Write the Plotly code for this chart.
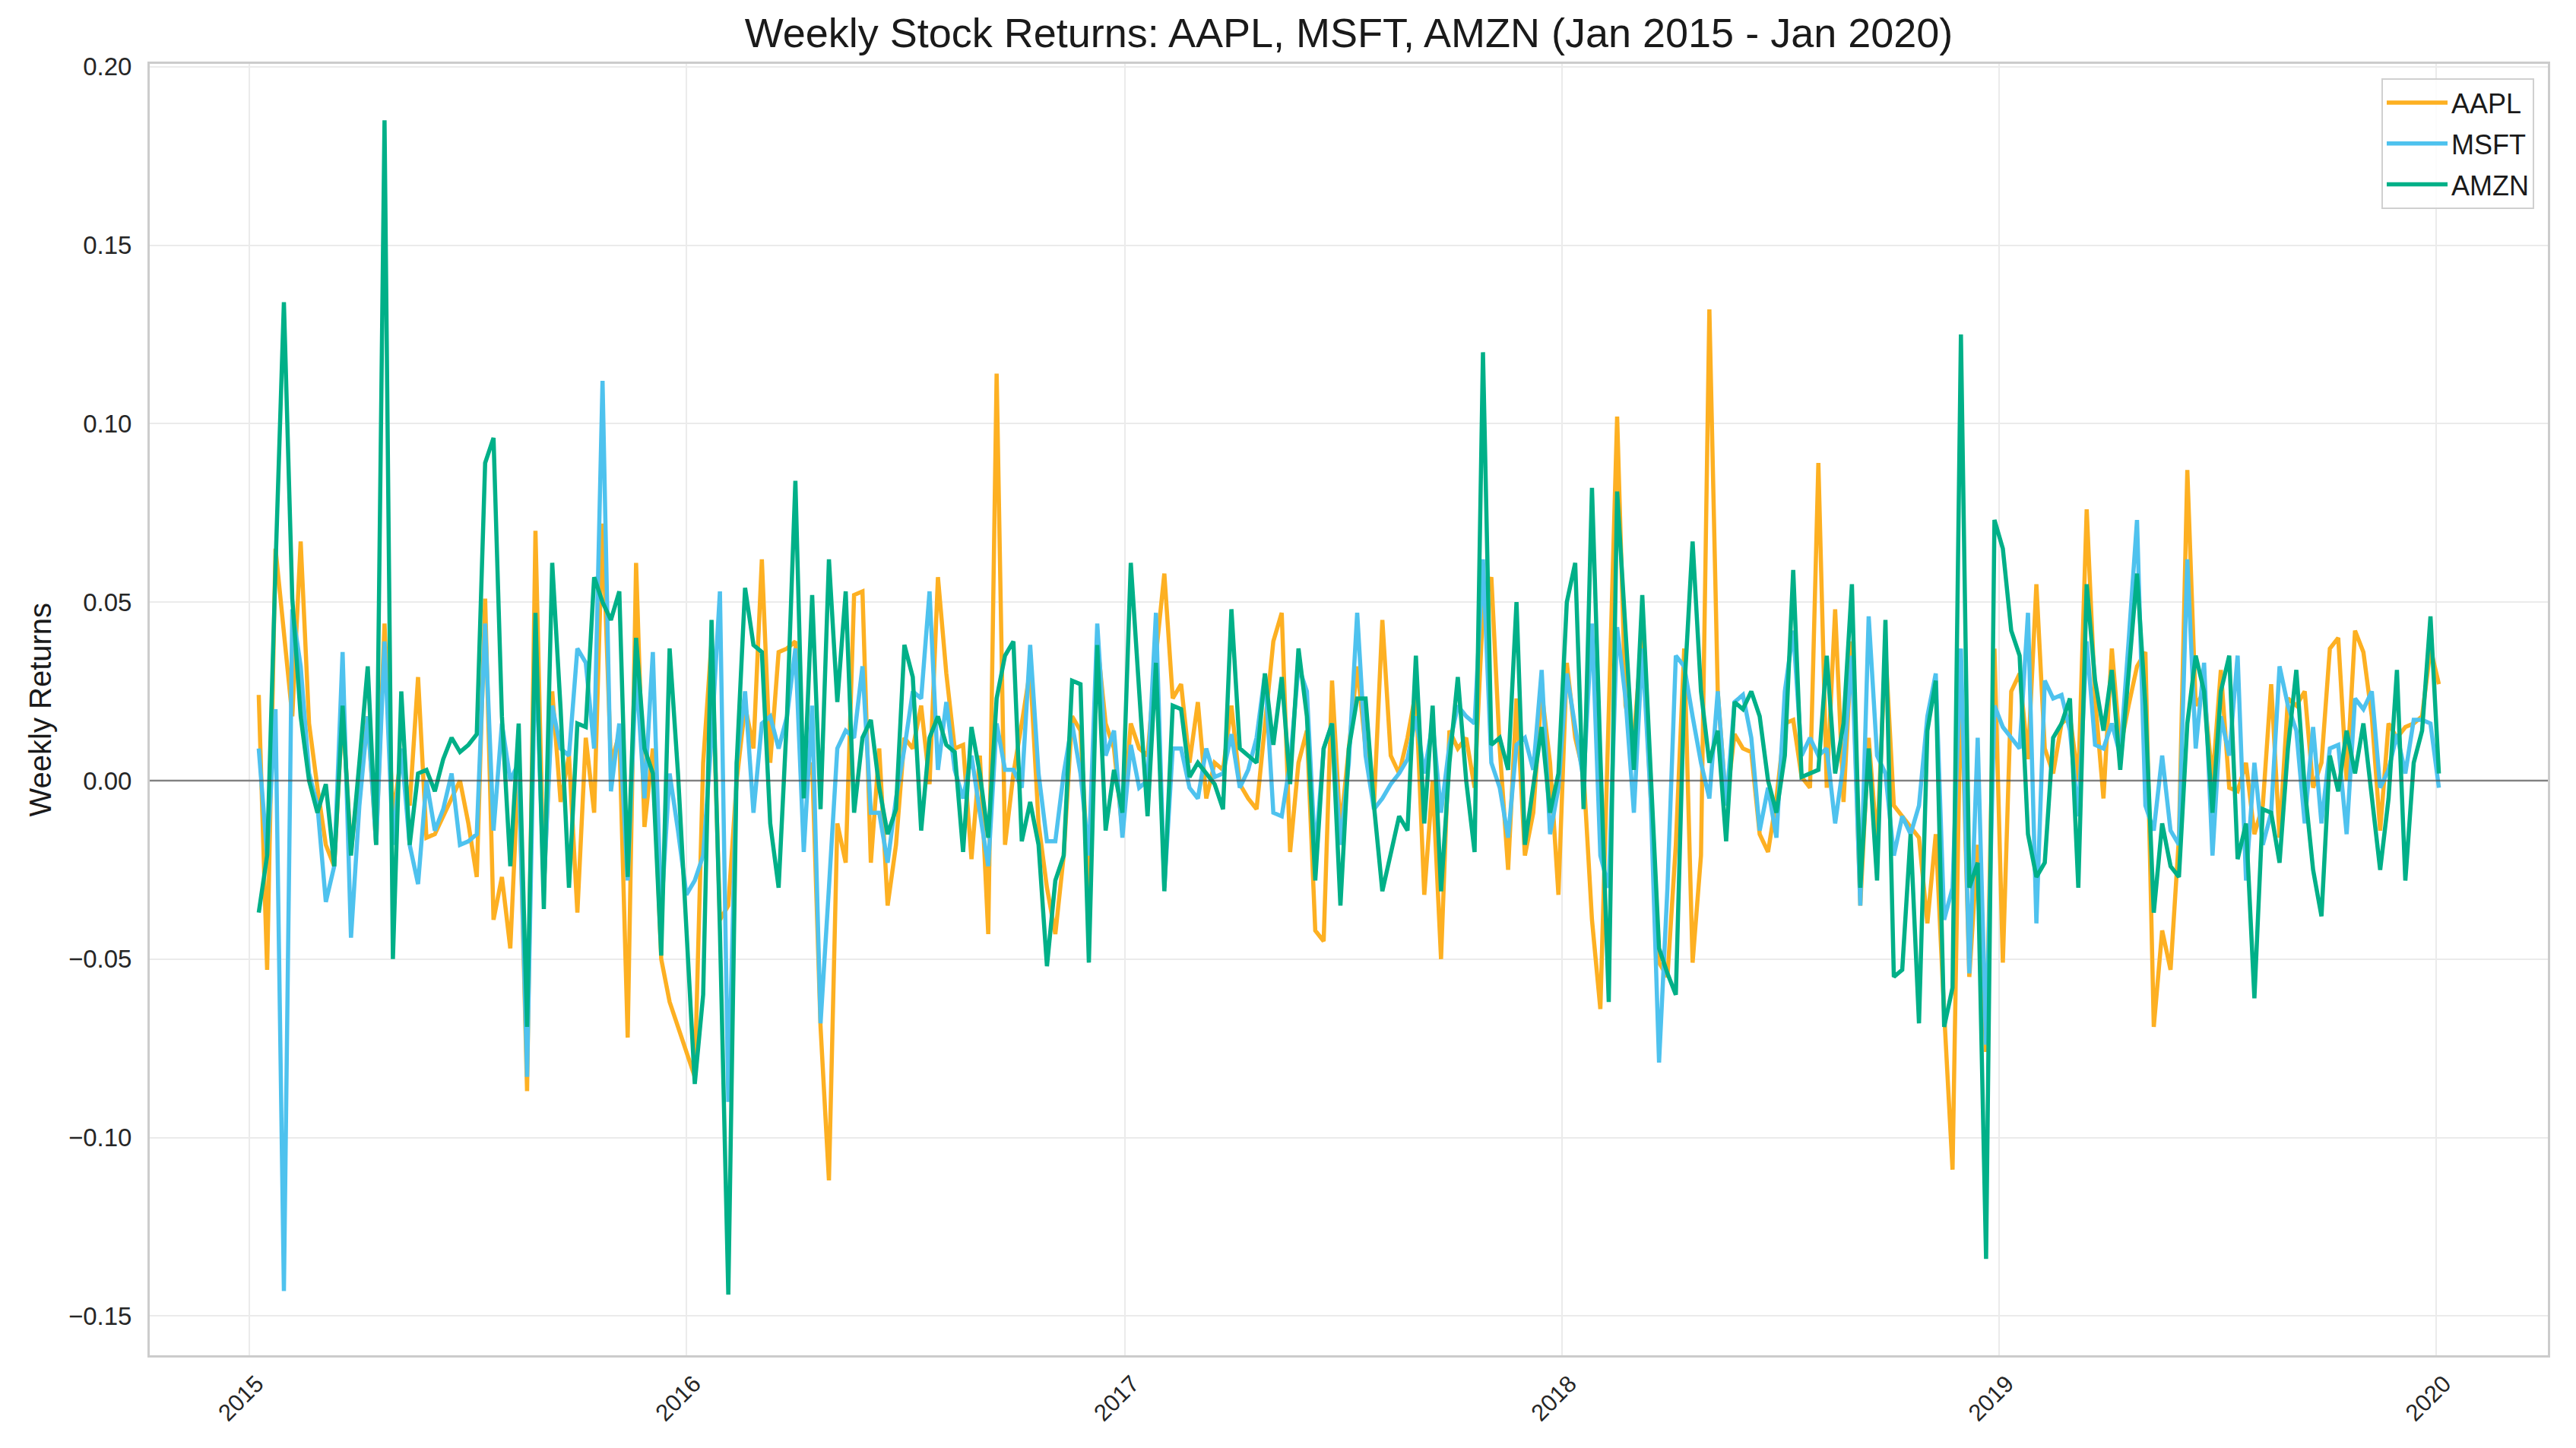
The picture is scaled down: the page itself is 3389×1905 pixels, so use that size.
import pandas as pd
import plotly.graph_objects as go

# ---------------- DATA (weekly returns, Fridays from 2015-01-09) ----------------
start_date = "2015-01-09"

aapl = [
    0.024, -0.053, 0.065, 0.040, 0.018, 0.067, 0.016, -0.002, -0.018, -0.024,
    0.020, -0.020, 0.002, 0.018, -0.018, 0.044, -0.010, 0.007, -0.007, 0.029,
    -0.016, -0.015, -0.010, -0.005, 0.000, -0.012, -0.027, 0.051, -0.039, -0.027,
    -0.047, 0.005, -0.087, 0.070, -0.030, 0.025, -0.006, 0.007, -0.037, 0.012,
    -0.009, 0.072, 0.005, 0.013, -0.072, 0.061, -0.013, 0.009, -0.050, -0.062,
    -0.069, -0.076, -0.083, 0.005, 0.039, -0.039, -0.035, 0.000, 0.021, 0.009,
    0.062, 0.005, 0.036, 0.037, 0.039, -0.002, 0.005, -0.069, -0.112, -0.012,
    -0.023, 0.052, 0.053, -0.023, 0.009, -0.035, -0.018, 0.012, 0.009, 0.021,
    -0.001, 0.057, 0.030, 0.009, 0.010, -0.022, 0.007, -0.043, 0.114, -0.018,
    0.002, 0.016, 0.031, -0.012, -0.030, -0.043, -0.021, 0.018, 0.014, -0.030,
    0.039, 0.016, 0.009, -0.014, 0.016, 0.009, 0.007, 0.035, 0.058, 0.023,
    0.027, 0.005, 0.022, -0.005, 0.005, 0.003, 0.021, -0.001, -0.005, -0.008,
    0.016, 0.039, 0.047, -0.020, 0.005, 0.014, -0.042, -0.045, 0.028, -0.014,
    0.009, 0.032, 0.009, -0.007, 0.045, 0.007, 0.002, 0.012, 0.025, -0.032,
    0.000, -0.050, 0.014, 0.009, 0.012, -0.002, 0.048, 0.057, 0.009, -0.025,
    0.023, -0.021, -0.009, 0.025, 0.005, -0.032, 0.033, 0.012, 0.002, -0.039,
    -0.064, 0.020, 0.102, 0.021, 0.012, 0.042, -0.007, -0.051, -0.055, -0.018,
    0.037, -0.051, -0.021, 0.132, 0.025, -0.007, 0.013, 0.009, 0.008, -0.015,
    -0.020, -0.005, 0.016, 0.017, 0.001, -0.002, 0.089, -0.002, 0.048, -0.006,
    0.039, -0.035, 0.012, -0.018, 0.037, -0.007, -0.010, -0.013, -0.016, -0.040,
    -0.015, -0.065, -0.109, 0.030, -0.055, -0.018, -0.076, 0.037, -0.051, 0.025,
    0.030, 0.006, 0.055, 0.009, 0.002, 0.016, 0.018, 0.000, 0.076, 0.023,
    -0.005, 0.037, 0.009, 0.021, 0.032, 0.036, -0.069, -0.042, -0.053, -0.016,
    0.087, 0.021, 0.025, 0.000, 0.031, -0.002, -0.003, 0.005, -0.015, -0.007,
    0.027, -0.016, 0.023, 0.021, 0.025, -0.002, 0.005, 0.037, 0.040, 0.000,
    0.042, 0.036, 0.018, -0.014, 0.016, 0.012, 0.015, 0.016, 0.018, 0.037, 0.027,
]

msft = [
    0.009, -0.021, 0.020, -0.143, 0.048, 0.032, 0.002, -0.007, -0.034, -0.024,
    0.036, -0.044, -0.007, 0.018, -0.018, 0.039, -0.018, 0.009, -0.018, -0.029,
    0.000, -0.014, -0.008, 0.002, -0.018, -0.017, -0.015, 0.044, -0.014, 0.016,
    0.000, 0.005, -0.083, 0.039, -0.030, 0.021, 0.009, 0.007, 0.037, 0.033,
    0.009, 0.112, -0.003, 0.016, -0.028, 0.031, -0.005, 0.036, -0.037, 0.002,
    -0.014, -0.032, -0.028, -0.021, 0.012, 0.053, -0.090, 0.005, 0.025, -0.009,
    0.016, 0.018, 0.009, 0.018, 0.037, -0.020, 0.021, -0.068, -0.030, 0.009,
    0.014, 0.012, 0.032, -0.009, -0.009, -0.023, -0.005, 0.009, 0.025, 0.023,
    0.053, 0.003, 0.022, 0.003, -0.005, 0.007, -0.009, -0.024, 0.016, 0.003,
    0.003, -0.002, 0.038, 0.002, -0.017, -0.017, 0.002, 0.016, 0.002, -0.021,
    0.044, 0.007, 0.014, -0.016, 0.010, -0.002, 0.000, 0.047, -0.030, 0.009,
    0.009, -0.002, -0.005, 0.009, 0.001, 0.002, 0.013, -0.002, 0.003, 0.012,
    0.030, -0.009, -0.010, 0.005, 0.032, 0.025, -0.021, 0.009, 0.016, -0.018,
    0.005, 0.047, 0.007, -0.008, -0.005, -0.001, 0.002, 0.006, 0.018, 0.002,
    0.016, -0.009, 0.010, 0.021, 0.018, 0.016, 0.062, 0.005, -0.002, -0.016,
    0.010, 0.012, 0.003, 0.031, -0.015, -0.002, 0.030, 0.014, 0.000, 0.044,
    -0.021, -0.030, 0.043, 0.023, -0.009, 0.037, -0.005, -0.079, -0.030, 0.035,
    0.032, 0.018, 0.005, -0.005, 0.025, -0.007, 0.022, 0.024, 0.012, -0.014,
    -0.002, -0.016, 0.025, 0.042, 0.007, 0.012, 0.007, 0.009, -0.012, 0.005,
    0.035, -0.035, 0.046, 0.007, 0.002, -0.021, -0.010, -0.015, -0.007, 0.018,
    0.030, -0.039, -0.030, 0.037, -0.054, 0.012, -0.074, 0.021, 0.015, 0.012,
    0.009, 0.047, -0.040, 0.028, 0.023, 0.024, 0.014, -0.010, 0.039, 0.010,
    0.009, 0.016, 0.007, 0.039, 0.073, -0.007, -0.014, 0.007, -0.014, -0.018,
    0.062, 0.009, 0.033, -0.021, 0.018, 0.007, 0.035, -0.028, 0.005, -0.018,
    -0.009, 0.032, 0.021, 0.014, -0.012, 0.015, -0.012, 0.009, 0.010, -0.015,
    0.023, 0.020, 0.025, -0.002, 0.003, 0.013, 0.002, 0.017, 0.017, 0.016, -0.002,
]

amzn = [
    -0.037, -0.021, 0.060, 0.134, 0.051, 0.018, 0.000, -0.009, -0.001, -0.024,
    0.021, -0.021, 0.005, 0.032, -0.018, 0.185, -0.050, 0.025, -0.018, 0.002,
    0.003, -0.003, 0.006, 0.012, 0.008, 0.010, 0.013, 0.089, 0.096, 0.018,
    -0.024, 0.016, -0.069, 0.047, -0.036, 0.061, 0.020, -0.030, 0.016, 0.015,
    0.057, 0.050, 0.045, 0.053, -0.027, 0.040, 0.009, 0.002, -0.049, 0.037,
    0.002, -0.039, -0.085, -0.060, 0.045, -0.042, -0.144, 0.005, 0.054, 0.038,
    0.036, -0.012, -0.030, 0.018, 0.084, -0.005, 0.052, -0.008, 0.062, 0.022,
    0.053, -0.009, 0.012, 0.017, -0.002, -0.015, -0.008, 0.038, 0.029, -0.014,
    0.012, 0.018, 0.010, 0.008, -0.020, 0.015, 0.002, -0.016, 0.023, 0.035,
    0.039, -0.017, -0.006, -0.018, -0.052, -0.028, -0.021, 0.028, 0.027, -0.051,
    0.038, -0.014, 0.003, -0.009, 0.061, 0.025, -0.010, 0.033, -0.031, 0.021,
    0.020, 0.001, 0.005, 0.002, -0.001, -0.008, 0.048, 0.009, 0.007, 0.005,
    0.030, 0.010, 0.029, -0.001, 0.037, 0.018, -0.028, 0.009, 0.016, -0.035,
    0.009, 0.023, 0.023, -0.007, -0.031, -0.020, -0.010, -0.014, 0.035, -0.012,
    0.021, -0.031, 0.005, 0.029, 0.000, -0.020, 0.120, 0.010, 0.012, 0.003,
    0.050, -0.018, -0.002, 0.015, -0.009, 0.002, 0.050, 0.061, -0.008, 0.082,
    0.007, -0.062, 0.081, 0.040, 0.003, 0.052, 0.000, -0.047, -0.054, -0.060,
    0.025, 0.067, 0.025, 0.005, 0.014, -0.017, 0.022, 0.020, 0.025, 0.018,
    0.000, -0.009, 0.007, 0.059, 0.001, 0.002, 0.003, 0.035, 0.002, 0.016,
    0.055, -0.030, 0.009, -0.028, 0.045, -0.055, -0.053, -0.015, -0.068, 0.014,
    0.028, -0.069, -0.058, 0.125, -0.030, -0.023, -0.134, 0.073, 0.065, 0.042,
    0.035, -0.015, -0.027, -0.023, 0.012, 0.016, 0.023, -0.030, 0.055, 0.028,
    0.014, 0.031, 0.003, 0.030, 0.058, 0.021, -0.037, -0.012, -0.024, -0.027,
    0.016, 0.035, 0.025, -0.009, 0.025, 0.035, -0.022, -0.012, -0.061, -0.008,
    -0.009, -0.023, 0.009, 0.031, -0.002, -0.025, -0.038, 0.007, -0.003, 0.014,
    0.002, 0.016, -0.005, -0.025, -0.005, 0.031, -0.028, 0.005, 0.014, 0.046, 0.002,
]

series_names = ["AAPL", "MSFT", "AMZN"]
year_ticks = ["2015-01-01", "2016-01-01", "2017-01-01", "2018-01-01", "2019-01-01", "2020-01-01"]
year_labels = ["2015", "2016", "2017", "2018", "2019", "2020"]
y_ticks = [-0.15, -0.10, -0.05, 0.00, 0.05, 0.10, 0.15, 0.20]

# ---------------- FIGURE ----------------
colors = ["#FDB022", "#4EC2EE", "#00B088"]
n = max(len(aapl), len(msft), len(amzn))
dates = pd.date_range(start=start_date, periods=n, freq="7D")

FONT = "Liberation Sans, Arial, Helvetica, sans-serif"
fig = go.Figure()
for name, vals, col in zip(series_names, [aapl, msft, amzn], colors):
    fig.add_trace(go.Scatter(
        x=dates[:len(vals)], y=vals, mode="lines", name=name,
        line=dict(color=col, width=5.5), legendgroup=name,
    ))

W, H = 3389, 1905
L, R, T, B = 197, 37, 84, 122

fig.update_layout(
    width=W, height=H,
    margin=dict(l=L, r=R, t=T, b=B),
    paper_bgcolor="white", plot_bgcolor="white",
    font=dict(family=FONT, color="#262626", size=33),
    title=dict(
        text="Weekly Stock Returns: AAPL, MSFT, AMZN (Jan 2015 - Jan 2020)",
        font=dict(size=54, color="#1a1a1a", family=FONT),
        x=0.5, xref="paper", xanchor="center",
        y=1 - 43 / H, yref="container", yanchor="middle",
    ),
    showlegend=True,
    legend=dict(
        x=1 - 18 / (W - L - R), y=1 - 19 / (H - T - B),
        xanchor="right", yanchor="top",
        bgcolor="rgba(255,255,255,0.85)", bordercolor="#d0d0d0", borderwidth=2,
        font=dict(size=36, color="#1a1a1a", family=FONT),
        itemwidth=80, tracegroupgap=4, traceorder="grouped",
    ),
    xaxis=dict(
        type="date",
        range=["2014-10-10", "2020-04-03"],
        tickmode="array", tickvals=year_ticks, ticktext=year_labels,
        tickangle=-45, tickfont=dict(size=31, color="#262626"),
        showgrid=True, gridcolor="#ebebeb", gridwidth=2,
        showline=True, linecolor="#cccccc", linewidth=3, mirror=True,
        zeroline=False, ticks="", ticklabelshift=10, ticklabelstandoff=4,
    ),
    yaxis=dict(
        range=[-0.161, 0.2008],
        tickmode="array", tickvals=y_ticks, tickformat=".2f",
        tickfont=dict(size=33, color="#262626"),
        showgrid=True, gridcolor="#ebebeb", gridwidth=2,
        showline=True, linecolor="#cccccc", linewidth=3, mirror=True,
        zeroline=False, ticks="", ticklabelstandoff=14,
    ),
    annotations=[dict(
        text="Weekly Returns", textangle=-90,
        xref="paper", yref="paper",
        x=(52 - L) / (W - L - R), y=0.5,
        xanchor="center", yanchor="middle", showarrow=False,
        font=dict(size=40, color="#1a1a1a", family=FONT),
    )],
    shapes=[dict(
        type="line", xref="paper", yref="y", x0=0, x1=1, y0=0, y1=0,
        line=dict(color="rgba(60,60,60,0.6)", width=2.5), layer="above",
    )],
)

fig.write_html("out.html", config={"displayModeBar": False},
               post_script="document.body.style.margin='0';")
